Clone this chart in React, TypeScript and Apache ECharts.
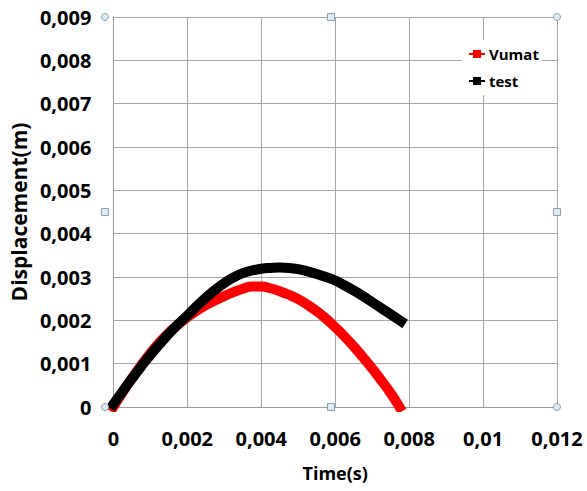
import React, { useEffect, useRef } from "react";
import * as echarts from "echarts";

const timeVumat = [0, 0.00025, 0.0005, 0.00075, 0.001, 0.00125, 0.0015, 0.00175, 0.002, 0.00225, 0.0025, 0.00275, 0.003, 0.00325, 0.0035, 0.00375, 0.004, 0.00425, 0.0045, 0.00475, 0.005, 0.00525, 0.0055, 0.00575, 0.006, 0.00625, 0.0065, 0.00675, 0.007, 0.00725, 0.0075, 0.00774];
const dispVumat = [0, 0.00034, 0.00066, 0.00096, 0.00124, 0.00149, 0.00171, 0.0019, 0.00207, 0.00222, 0.00235, 0.00246, 0.00256, 0.00265, 0.00273, 0.00278, 0.00278, 0.00274, 0.00267, 0.00259, 0.00249, 0.00236, 0.00221, 0.00204, 0.00184, 0.00163, 0.0014, 0.00115, 0.00089, 0.00061, 0.00032, 0];

const timeTest = [0, 0.00025, 0.0005, 0.00075, 0.001, 0.00125, 0.0015, 0.00175, 0.002, 0.00225, 0.0025, 0.00275, 0.003, 0.00325, 0.0035, 0.00375, 0.004, 0.00425, 0.0045, 0.00475, 0.005, 0.00525, 0.0055, 0.00575, 0.006, 0.00625, 0.0065, 0.00675, 0.007, 0.00725, 0.0075, 0.00778];
const dispTest = [0.00006, 0.00036, 0.00065, 0.00093, 0.0012, 0.00145, 0.00169, 0.00191, 0.00211, 0.00232, 0.00252, 0.0027, 0.00286, 0.00299, 0.00309, 0.00315, 0.00319, 0.00321, 0.00322, 0.00321, 0.00318, 0.00313, 0.00307, 0.003, 0.00292, 0.00281, 0.00269, 0.00256, 0.00242, 0.00228, 0.00214, 0.00198];

const seriesNames = ["Vumat", "test"];
const seriesColors = ["#ff0000", "#000000"];

const fmt = (v: number) => {
  const n = parseFloat(v.toFixed(4));
  return n === 0 ? "0" : String(n).replace(".", ",");
};

const FONT = "'Open Sans', 'Liberation Sans', sans-serif";

export default function App() {
  const ref = useRef<HTMLDivElement>(null);
  useEffect(() => {
    if (!ref.current) return;
    const chart = echarts.init(ref.current, undefined, { renderer: "svg" });
    const L = 105, R = 557, T = 17, B = 407;
    const mx = (L + R) / 2, my = (T + B) / 2;
    const handleStyle = { fill: "#dcecf2", stroke: "#8aa0ad", lineWidth: 1 };
    const circ = (x: number, y: number) => ({ type: "circle", shape: { cx: x, cy: y, r: 3.5 }, style: handleStyle, z: 100 });
    const sq = (x: number, y: number) => ({ type: "rect", shape: { x: x - 3.5, y: y - 3.5, width: 7, height: 7 }, style: handleStyle, z: 100 });
    chart.setOption({
      animation: false,
      backgroundColor: "#ffffff",
      grid: { left: L, right: 587 - R, top: T, bottom: 491 - B, containLabel: false },
      xAxis: {
        type: "value",
        min: 0,
        max: 0.012,
        interval: 0.002,
        name: "Time(s)",
        nameLocation: "middle",
        nameGap: 57,
        nameTextStyle: { fontFamily: FONT, fontWeight: "bold", fontSize: 18, color: "#000" },
        axisLine: { show: true, lineStyle: { color: "#999", width: 1 } },
        axisTick: { show: false },
        splitLine: { show: true, lineStyle: { color: "#a6a6a6", width: 1 } },
        axisLabel: { formatter: fmt, fontFamily: FONT, fontWeight: "bold", fontSize: 20, color: "#000", margin: 21 },
      },
      yAxis: {
        type: "value",
        min: 0,
        max: 0.009,
        interval: 0.001,
        name: "Displacement(m)",
        nameLocation: "middle",
        nameGap: 74,
        nameTextStyle: { fontFamily: FONT, fontWeight: "bold", fontSize: 21, color: "#000" },
        axisLine: { show: true, lineStyle: { color: "#999", width: 1 } },
        axisTick: { show: false },
        splitLine: { show: true, lineStyle: { color: "#a6a6a6", width: 1 } },
        axisLabel: { formatter: fmt, fontFamily: FONT, fontWeight: "bold", fontSize: 20, color: "#000", margin: 22 },
      },
      series: [
        {
          name: seriesNames[0],
          type: "line",
          data: timeVumat.map((t, i) => [t, dispVumat[i]]),
          smooth: 0.5,
          showSymbol: false,
          lineStyle: { color: seriesColors[0], width: 10, cap: "square", join: "round" },
          itemStyle: { color: seriesColors[0] },
          z: 2,
        },
        {
          name: seriesNames[1],
          type: "line",
          data: timeTest.map((t, i) => [t, dispTest[i]]),
          smooth: 0.5,
          showSymbol: false,
          lineStyle: { color: seriesColors[1], width: 10, cap: "square", join: "round" },
          itemStyle: { color: seriesColors[1] },
          z: 3,
        },
      ],
      graphic: [
        { type: "rect", shape: { x: 462, y: 40, width: 80, height: 55 }, style: { fill: "#fff" }, z: 50 },
        ...seriesNames.flatMap((name, i) => {
          const y = 54 + i * 27;
          return [
            { type: "line", shape: { x1: 469, y1: y, x2: 485, y2: y }, style: { stroke: seriesColors[i], lineWidth: 2 }, z: 51 },
            { type: "rect", shape: { x: 473, y: y - 4, width: 8, height: 8 }, style: { fill: seriesColors[i] }, z: 52 },
            {
              type: "text",
              x: 489,
              y,
              style: { text: name, fill: "#000", font: `bold 15px ${FONT}`, textVerticalAlign: "middle", textAlign: "left" },
              z: 52,
            },
          ];
        }),
        circ(L, T), circ(R, T), circ(L, B), circ(R, B),
        sq(mx, T), sq(mx, B), sq(L, my), sq(R, my),
      ],
    });
    return () => chart.dispose();
  }, []);
  return <div ref={ref} style={{ width: 587, height: 491, position: "absolute", left: 0, top: 0 }} />;
}
